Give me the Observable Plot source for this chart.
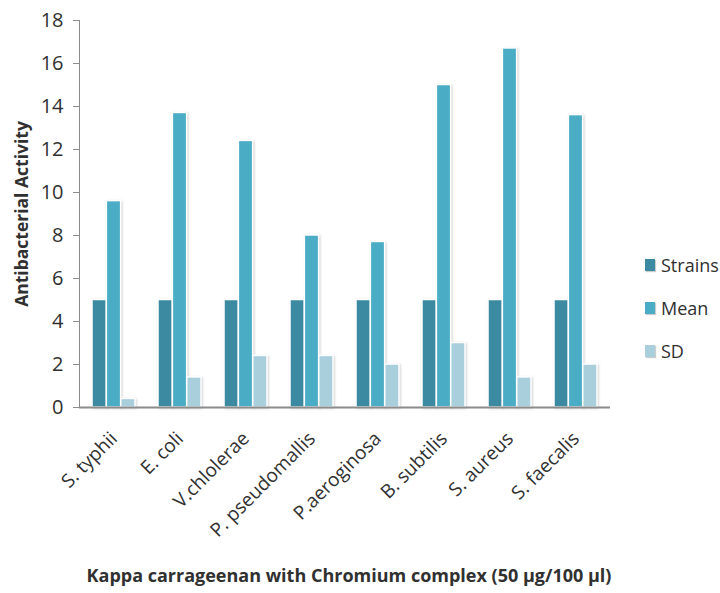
<!DOCTYPE html>
<html>
<head>
<meta charset="utf-8">
<script src="https://cdn.jsdelivr.net/npm/d3@7"></script>
<script src="https://cdn.jsdelivr.net/npm/@observablehq/plot@0.6"></script>
<style>
  body { margin: 0; background: #fff; }
  #chart { position: relative; width: 720px; height: 593px; font-family: "Open Sans", sans-serif; }
  #chart svg text { fill: #303030; }
  #chart svg g[aria-label="y-axis tick label"] { font-size: 20px; }
  #chart svg g[aria-label="x-axis tick label"] { font-size: 19px; }
  #chart svg g.axis-title { font-weight: bold; }
  #chart svg g[aria-label="bar"] { filter: drop-shadow(1px 1px 1px rgba(0,0,0,0.18)); }
  #legend { position: absolute; left: 645px; top: 243px; font-size: 18px; color: #303030; }
  #legend .item { display: flex; align-items: center; height: 43px; }
  #legend .sw { width: 10px; height: 12px; margin-right: 6px; box-shadow: 1px 1px 1px rgba(0,0,0,0.2); }
</style>
</head>
<body>
<div id="chart"></div>
<script>
// Bacterial strains tested
const categories = ["S. typhii", "E. coli", "V.chlolerae", "P. pseudomallis", "P.aeroginosa", "B. subtilis", "S. aureus", "S. faecalis"];
// Series values per strain
const strains = [5, 5, 5, 5, 5, 5, 5, 5];
const mean = [9.6, 13.7, 12.4, 8.0, 7.7, 15.0, 16.7, 13.6];
const sd = [0.4, 1.4, 2.4, 2.4, 2.0, 3.0, 1.4, 2.0];
// Series names and colours
const series = ["Strains", "Mean", "SD"];
const seriesColors = ["#3B8AA2", "#4BACC6", "#A9CFDD"];
// Axis ticks and titles
const yTicks = [0, 2, 4, 6, 8, 10, 12, 14, 16, 18];
const yTitle = "Antibacterial Activity";
const xTitle = "Kappa carrageenan with Chromium complex (50 µg/100 µl)";

const rows = categories.map((c, i) => ({category: c, Strains: strains[i], Mean: mean[i], SD: sd[i]}));

const width = 720, height = 593;
const marginLeft = 79, marginRight = 110, marginTop = 20, marginBottom = 186;
const padInner = 0.35, padOuter = 0.18;
const step = (width - marginLeft - marginRight) / (categories.length - padInner + 2 * padOuter);
const bw = step * (1 - padInner);

const chart = Plot.plot({
  width, height, marginLeft, marginRight, marginTop, marginBottom,
  style: {fontFamily: "Open Sans, sans-serif", color: "#8c8c8c", background: "#fff"},
  x: {
    domain: categories, paddingInner: padInner, paddingOuter: padOuter,
    tickSize: 0, tickPadding: 28, tickRotate: -45, label: null
  },
  y: {
    domain: [0, 18], ticks: yTicks, tickSize: 6, tickPadding: 10, line: true, label: null
  },
  marks: [
    ...series.map((s, k) => Plot.barY(rows, {
      x: "category", y: s, fill: seriesColors[k],
      insetLeft: k * bw / 3, insetRight: (2 - k) * bw / 3,
      stroke: "white", strokeWidth: 1.5
    })),
    Plot.ruleY([0], {stroke: "#8c8c8c", strokeWidth: 2}),
    // axis titles
    Plot.text([yTitle], {text: d => d, frameAnchor: "left", textAnchor: "middle", rotate: -90, dx: -57, fontSize: 17.5}),
    Plot.text([xTitle], {text: d => d, frameAnchor: "bottom", textAnchor: "middle", dy: 174, dx: 4, fontSize: 18})
  ]
});
chart.querySelectorAll('g[aria-label="text"]').forEach(g => g.classList.add("axis-title"));
document.getElementById("chart").appendChild(chart);

// Legend at the right of the plot
const legend = document.createElement("div");
legend.id = "legend";
series.forEach((s, k) => {
  const item = document.createElement("div");
  item.className = "item";
  const sw = document.createElement("span");
  sw.className = "sw";
  sw.style.background = seriesColors[k];
  const label = document.createElement("span");
  label.textContent = s;
  item.append(sw, label);
  legend.appendChild(item);
});
document.getElementById("chart").appendChild(legend);
</script>
</body>
</html>
